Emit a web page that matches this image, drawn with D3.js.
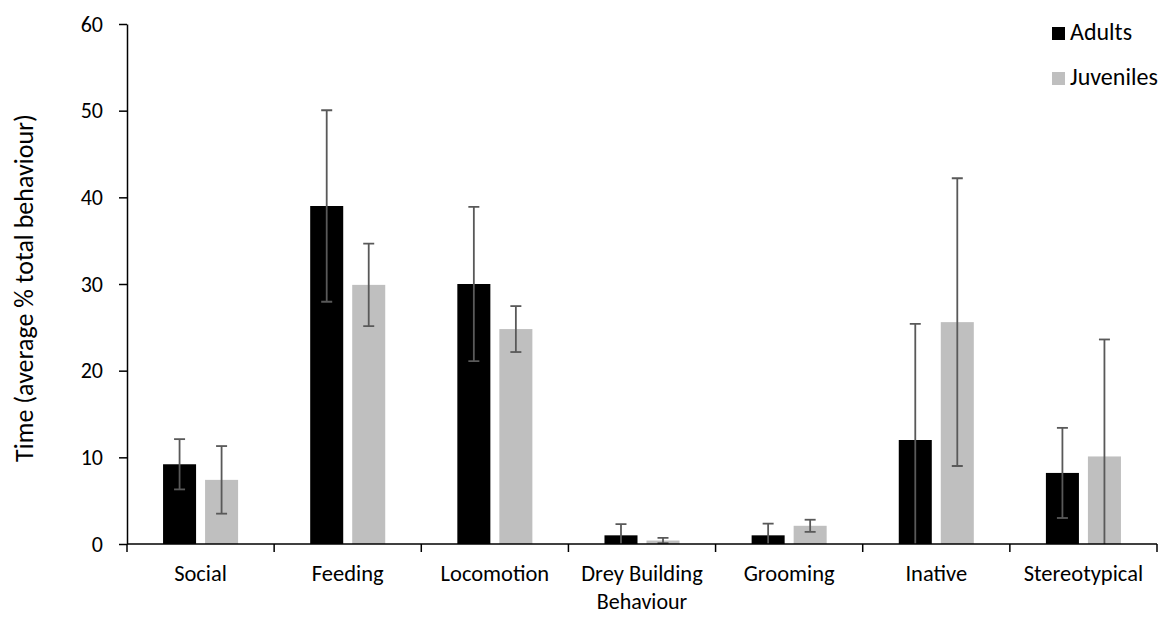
<!DOCTYPE html>
<meta charset="utf-8">
<script src="https://d3js.org/d3.v7.min.js"></script>
<style>
  body { margin: 0; background: #fff; }
  text { font-family: Carlito, Calibri, Lato, sans-serif; fill: #000; }
</style>
<div id="chart"></div>
<script>

// behaviour categories and the two groups
var categories = ["Social", "Feeding", "Locomotion", "Drey Building", "Grooming", "Inative", "Stereotypical"];
var series = ["Adults", "Juveniles"];

// mean % of total behaviour
var adults    = [9.2, 39.0, 30.0, 1.0, 1.0, 12.0, 8.2];
var juveniles = [7.4, 29.9, 24.8, 0.4, 2.1, 25.6, 10.1];

// error bar half-lengths
var adultsErr    = [2.9, 11.05, 8.9, 1.3, 1.35, 13.4, 5.2];
var juvenilesErr = [3.9, 4.75, 2.65, 0.3, 0.7, 16.6, 13.5];

var yTicks = [0, 10, 20, 30, 40, 50, 60];

var colors = { "Adults": "#000000", "Juveniles": "#bfbfbf" };

var width = 1161,
    height = 624,
    margin = { top: 24, right: 4, bottom: 80, left: 127 };

var innerW = width - margin.left - margin.right,
    innerH = height - margin.top - margin.bottom;

var svg = d3.select("#chart")
  .append("svg")
    .attr("width", width)
    .attr("height", height);

var g = svg.append("g")
    .attr("transform", "translate(" + margin.left + "," + margin.top + ")");

// build rows for each category
var rows = categories.map(function(c, i) {
  return {
    cat: c,
    vals: [
      { key: "Adults", value: adults[i], err: adultsErr[i] },
      { key: "Juveniles", value: juveniles[i], err: juvenilesErr[i] }
    ]
  };
});

var x0 = d3.scaleBand().domain(categories).range([0, innerW]).padding(0);
var x1 = d3.scaleBand().domain(series).range([0, x0.bandwidth()])
    .paddingInner(0.214).paddingOuter(0.858);
var y = d3.scaleLinear().domain([0, 60]).range([innerH, 0]);

// clip so the long error bars stop at the axis
g.append("clipPath").attr("id", "plotclip")
  .append("rect").attr("x", 0).attr("y", 0).attr("width", innerW).attr("height", innerH);

var groups = g.selectAll(".grp")
  .data(rows)
  .enter().append("g")
    .attr("class", "grp")
    .attr("transform", function(d) { return "translate(" + x0(d.cat) + ",0)"; });

groups.selectAll("rect")
  .data(function(d) { return d.vals; })
  .enter().append("rect")
    .attr("x", function(d) { return x1(d.key); })
    .attr("y", function(d) { return y(d.value); })
    .attr("width", x1.bandwidth())
    .attr("height", function(d) { return innerH - y(d.value); })
    .attr("fill", function(d) { return colors[d.key]; });

// error bars
var errG = groups.append("g").attr("clip-path", "url(#plotclip)")
    .selectAll("g")
    .data(function(d) { return d.vals; })
    .enter().append("g");

var capW = 5.5;
function cx(d) { return x1(d.key) + x1.bandwidth() / 2; }

errG.append("line")
    .attr("x1", cx)
    .attr("x2", cx)
    .attr("y1", function(d) { return y(d.value + d.err); })
    .attr("y2", function(d) { return y(d.value - d.err); })
    .attr("stroke", "#595959").attr("stroke-width", 1.8);

errG.append("line")
    .attr("x1", function(d) { return cx(d) - capW; })
    .attr("x2", function(d) { return cx(d) + capW; })
    .attr("y1", function(d) { return y(d.value + d.err); })
    .attr("y2", function(d) { return y(d.value + d.err); })
    .attr("stroke", "#595959").attr("stroke-width", 1.8);

errG.filter(function(d) { return d.value - d.err > 0; })
  .append("line")
    .attr("x1", function(d) { return cx(d) - capW; })
    .attr("x2", function(d) { return cx(d) + capW; })
    .attr("y1", function(d) { return y(d.value - d.err); })
    .attr("y2", function(d) { return y(d.value - d.err); })
    .attr("stroke", "#595959").attr("stroke-width", 1.8);

// y axis
var yAxis = g.append("g")
    .call(d3.axisLeft(y).tickValues(yTicks).tickSize(8).tickPadding(16).tickSizeOuter(0));
yAxis.select(".domain").attr("stroke", "#000").attr("stroke-width", 1.5);
yAxis.selectAll(".tick line").attr("stroke", "#000").attr("stroke-width", 1.5);
yAxis.selectAll("text").style("font-size", "22px").attr("fill", "#000");

// x axis: ticks sit at the category boundaries
var xAxis = g.append("g").attr("transform", "translate(0," + innerH + ")");
xAxis.append("line")
    .attr("x1", 0).attr("x2", innerW)
    .attr("stroke", "#000").attr("stroke-width", 1.5);
xAxis.selectAll(".bound")
  .data(categories.concat(["end"]))
  .enter().append("line")
    .attr("x1", function(d, i) { return i * x0.step(); })
    .attr("x2", function(d, i) { return i * x0.step(); })
    .attr("y1", 0).attr("y2", 8)
    .attr("stroke", "#000").attr("stroke-width", 1.5);
xAxis.selectAll(".lbl")
  .data(categories)
  .enter().append("text")
    .attr("x", function(d) { return x0(d) + x0.bandwidth() / 2; })
    .attr("y", 37)
    .attr("text-anchor", "middle")
    .style("font-size", "22.5px")
    .text(function(d) { return d; });

// axis titles
svg.append("text")
    .attr("x", margin.left + innerW / 2)
    .attr("y", 609)
    .attr("text-anchor", "middle")
    .style("font-size", "22px")
    .text("Behaviour");

svg.append("text")
    .attr("transform", "translate(33," + 288 + ") rotate(-90)")
    .attr("text-anchor", "middle")
    .style("font-size", "26px")
    .text("Time (average % total behaviour)");

// legend
var legend = svg.append("g").attr("transform", "translate(1052,0)");
series.forEach(function(s, i) {
  legend.append("rect")
      .attr("x", 0).attr("y", 27 + i * 45)
      .attr("width", 13).attr("height", 13)
      .attr("fill", colors[s]);
  legend.append("text")
      .attr("x", 18).attr("y", 40 + i * 45)
      .style("font-size", "24px")
      .text(s);
});

</script>
